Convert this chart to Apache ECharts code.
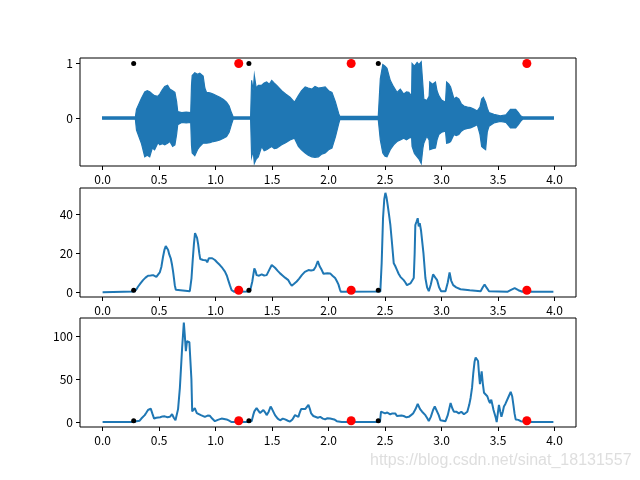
<!DOCTYPE html>
<html>
<head>
<meta charset="utf-8">
<script src="https://cdn.jsdelivr.net/npm/echarts@6/dist/echarts.min.js"></script>
<style>html,body{margin:0;padding:0;background:#fff;}#c{width:640px;height:480px;}</style>
</head>
<body>
<div id="c"></div>
<script>
// ---- Data ----
// Waveform envelope (time s, upper, lower)
const waveT  = [0.00,0.29,0.30,0.343,0.373,0.395,0.417,0.44,0.46,0.49,0.506,0.53,0.55,0.575,0.595,0.62,0.64,0.655,0.665,0.70,0.74,0.78,0.787,0.793,0.816,0.84,0.86,0.89,0.905,0.92,0.95,0.979,1.01,1.038,1.07,1.097,1.12,1.14,1.156,1.31,1.319,1.333,1.343,1.36,1.378,1.408,1.43,1.452,1.475,1.497,1.52,1.541,1.585,1.62,1.659,1.698,1.733,1.76,1.793,1.82,1.852,1.88,1.91,1.94,1.97,2.00,2.03,2.06,2.09,2.10,2.44,2.458,2.48,2.50,2.517,2.546,2.576,2.606,2.635,2.665,2.69,2.71,2.735,2.739,2.76,2.784,2.80,2.82,2.835,2.843,2.87,2.89,2.896,2.92,2.946,2.96,2.976,3.00,3.035,3.045,3.065,3.08,3.11,3.13,3.153,3.175,3.198,3.23,3.257,3.29,3.316,3.34,3.355,3.37,3.39,3.405,3.42,3.463,3.52,3.57,3.61,3.656,3.68,3.70,3.72,3.99];
const waveUp = [0.02,0.02,0.16,0.36,0.48,0.50,0.48,0.44,0.41,0.40,0.44,0.52,0.58,0.60,0.53,0.50,0.47,0.30,0.12,0.10,0.11,0.10,0.60,0.78,0.83,0.80,0.82,0.77,0.55,0.47,0.46,0.44,0.41,0.38,0.34,0.29,0.22,0.10,0.02,0.02,0.69,0.50,0.78,0.55,0.60,0.60,0.64,0.66,0.62,0.69,0.64,0.60,0.50,0.44,0.38,0.29,0.41,0.50,0.57,0.55,0.53,0.58,0.55,0.56,0.57,0.50,0.47,0.30,0.08,0.03,0.03,0.72,0.98,0.95,0.91,0.69,0.57,0.47,0.53,0.44,0.48,0.47,0.40,1.00,0.95,1.02,0.98,1.03,0.60,0.35,0.32,0.40,0.66,0.62,0.66,0.50,0.41,0.33,0.29,0.66,0.62,0.57,0.35,0.38,0.35,0.26,0.22,0.20,0.19,0.16,0.13,0.20,0.35,0.38,0.29,0.18,0.10,0.07,0.04,0.06,0.16,0.16,0.10,0.04,0.02,0.02];
const waveLo = [-0.02,-0.02,-0.22,-0.46,-0.71,-0.68,-0.71,-0.55,-0.58,-0.45,-0.49,-0.47,-0.49,-0.46,-0.43,-0.52,-0.49,-0.30,-0.12,-0.08,-0.09,-0.08,-0.50,-0.64,-0.69,-0.58,-0.52,-0.46,-0.46,-0.46,-0.45,-0.43,-0.42,-0.40,-0.37,-0.34,-0.26,-0.12,-0.02,-0.02,-0.71,-0.60,-0.83,-0.75,-0.71,-0.52,-0.60,-0.58,-0.55,-0.52,-0.56,-0.55,-0.49,-0.45,-0.40,-0.37,-0.52,-0.58,-0.64,-0.68,-0.71,-0.72,-0.71,-0.66,-0.64,-0.58,-0.55,-0.35,-0.10,-0.03,-0.03,-0.40,-0.64,-0.70,-0.71,-0.58,-0.49,-0.43,-0.40,-0.37,-0.40,-0.37,-0.35,-0.52,-0.65,-0.71,-0.75,-0.83,-0.55,-0.46,-0.33,-0.40,-0.58,-0.56,-0.55,-0.40,-0.30,-0.26,-0.24,-0.46,-0.45,-0.43,-0.30,-0.32,-0.30,-0.24,-0.21,-0.19,-0.18,-0.15,-0.12,-0.30,-0.52,-0.55,-0.58,-0.25,-0.15,-0.09,-0.06,-0.08,-0.18,-0.18,-0.12,-0.06,-0.02,-0.02];

// Middle curve (time, value)
const midT = [0,0.278,0.30,0.313,0.335,0.358,0.38,0.402,0.425,0.447,0.476,0.49,0.506,0.52,0.535,0.548,0.559,0.58,0.59,0.603,0.615,0.624,0.632,0.639,0.648,0.662,0.772,0.787,0.797,0.808,0.818,0.826,0.836,0.846,0.856,0.864,0.875,0.89,0.905,0.915,0.926,0.94,0.95,0.97,0.994,1.015,1.038,1.06,1.083,1.10,1.112,1.127,1.142,1.166,1.304,1.325,1.343,1.353,1.363,1.385,1.408,1.43,1.452,1.475,1.497,1.51,1.526,1.55,1.571,1.595,1.615,1.644,1.66,1.674,1.695,1.718,1.74,1.763,1.79,1.822,1.845,1.867,1.885,1.905,1.92,1.94,1.955,1.97,1.99,2.014,2.035,2.058,2.075,2.088,2.10,2.109,2.458,2.47,2.482,2.493,2.503,2.513,2.523,2.535,2.547,2.562,2.577,2.59,2.606,2.62,2.636,2.65,2.665,2.68,2.694,2.71,2.724,2.74,2.754,2.762,2.768,2.779,2.789,2.798,2.807,2.818,2.828,2.84,2.857,2.872,2.887,2.905,2.925,2.945,2.961,2.978,2.996,3.035,3.055,3.071,3.085,3.103,3.13,3.168,3.25,3.346,3.365,3.381,3.40,3.42,3.582,3.615,3.647,3.68,3.715,3.99];
const midV = [0,0.3,1.5,2.8,4.5,6.2,7.5,8.5,8.6,8.8,7.9,8.5,10.2,13,18.3,22,23.8,21.8,19.5,17.5,14,10.6,7,3.6,1.2,0.5,0.5,7.3,16,24.7,30.5,31.2,28,24.7,20,17.1,16.8,16.6,17.5,16.5,15.4,17.5,18.0,17.5,16.6,15.3,14.0,12.5,10.6,8.5,6.2,3.5,1.0,0.2,0.3,5.5,12.3,11,8.8,8.5,9.2,8.6,8.8,11.5,14.0,13,12.6,11,9.7,8.5,7.5,6.2,4.5,3.3,4.3,5.5,7,8.8,10.5,11.4,11.2,11.4,13,16.1,13.5,11.4,9.5,8.8,9.8,9.7,8.5,7.3,5.5,3.9,1.5,0.2,0.3,15,38.2,48,51.3,49,45.1,40,34.7,25,14.9,13.5,11.4,9.5,7.9,7.5,6.2,5,3.6,4.2,4.5,5.5,7.3,20,34.7,36.5,38.2,34,35.6,32,31.2,20,7.3,2.5,0.5,4,9.2,7.5,6.2,2.5,0.5,0.5,5,10.2,6,3.6,2.5,1.5,1.0,0.5,2.5,4.0,2.2,0.5,0.2,1.2,2.1,1.0,0.2,0.2];

// Bottom curve (time, value)
const botT = [0,0.28,0.30,0.313,0.328,0.343,0.358,0.373,0.388,0.402,0.414,0.426,0.44,0.456,0.475,0.491,0.51,0.53,0.55,0.575,0.595,0.615,0.63,0.645,0.654,0.668,0.684,0.704,0.719,0.728,0.737,0.747,0.757,0.768,0.778,0.786,0.793,0.805,0.816,0.834,0.85,0.87,0.905,0.93,0.95,0.97,0.994,1.02,1.053,1.075,1.097,1.12,1.142,1.30,1.319,1.333,1.343,1.363,1.38,1.393,1.41,1.423,1.44,1.452,1.47,1.487,1.50,1.526,1.55,1.571,1.595,1.615,1.64,1.659,1.68,1.703,1.718,1.733,1.745,1.757,1.775,1.793,1.81,1.822,1.835,1.846,1.865,1.882,1.905,1.926,1.95,1.97,1.99,2.014,2.03,2.05,2.073,2.117,2.455,2.464,2.48,2.50,2.52,2.546,2.565,2.59,2.605,2.62,2.645,2.665,2.69,2.71,2.73,2.748,2.77,2.789,2.81,2.828,2.845,2.857,2.875,2.887,2.905,2.925,2.94,2.955,2.975,2.99,3.035,3.055,3.08,3.095,3.109,3.13,3.153,3.175,3.198,3.213,3.228,3.245,3.257,3.27,3.281,3.292,3.302,3.312,3.323,3.332,3.34,3.348,3.355,3.365,3.376,3.39,3.405,3.418,3.429,3.44,3.45,3.46,3.47,3.48,3.488,3.498,3.508,3.52,3.53,3.542,3.552,3.565,3.577,3.595,3.612,3.625,3.636,3.646,3.656,3.68,3.70,3.76,3.99];
const botV = [0,0,1,2.7,1.5,4,5,8,11,14,15.5,15.5,10,4,5,6,5.5,6.5,6.6,5.5,6,9,5,2,1,15,39.7,86.4,115.6,100,82.5,94,94.2,93,94.2,50,12.4,14,16.2,10.4,9,8,6,7.5,7.2,4,1,2.5,4,3.5,3,1.5,0,0,1,8,12.4,16.2,13,10.4,12,14,11,8,12,18,15,8,4,2,4,3,1.5,0.5,3,8,9,6,11,15,15,15,17,20,15,10,7,6,5,6,4,3,4.5,4,5,3,1,0,0,12,11,10,11,9,10,10,7,6,7.5,7,5.5,6,8,10,15,21,15,12,10,8,4,1,6,14,18,18,8,2,1,8,22,16,12,12,10,12,9,11,12,20,28,40,57,70,75,74,71,55,44,52,59,45,34,32,30,25,22,26,20,14,12,5,0,10,20,12,6,12,18,21,23,30,35,30,20,10,3,2.5,1,0,0];

// Marker points
const blackT = [0.275, 1.295, 2.44];
const redT   = [1.205, 2.2, 3.755];
const topMarkY = 1;
const midMarkY = 1;
const botMarkY = 1.5;

// Tick values
const xTicks = [0,0.5,1.0,1.5,2.0,2.5,3.0,3.5,4.0];
const yTicksTop = [0,1];
const yTicksMid = [0,20,40];
const yTicksBot = [0,50,100];

const watermark = 'https://blog.csdn.net/sinat_18131557';

// ---- Chart ----
const BLUE = '#1f77b4';
const FONT = '"Noto Sans CJK SC", "DejaVu Sans", sans-serif';
const chart = echarts.init(document.getElementById('c'), null, {renderer:'canvas'});

function xAxisDef(idx){
  return {
    type:'value', gridIndex: idx, min:-0.2, max:4.19,
    axisLine:{show:false, onZero:false},
    splitLine:{show:false},
    axisTick:{show:true, length:4, inside:false, customValues:xTicks, lineStyle:{color:'#000', width:1}},
    axisLabel:{show:true, customValues:xTicks, margin:7, color:'#000', fontSize:12, fontFamily:FONT,
      formatter: v => v.toFixed(1)}
  };
}
function yAxisDef(idx, min, max, ticks){
  return {
    type:'value', gridIndex: idx, min:min, max:max,
    axisLine:{show:false, onZero:false},
    splitLine:{show:false},
    axisTick:{show:true, length:4, customValues:ticks, lineStyle:{color:'#000', width:1}},
    axisLabel:{show:true, customValues:ticks, margin:7, color:'#000', fontSize:12, fontFamily:FONT,
      formatter: v => String(v)}
  };
}

const grids = [
  {left:80, width:496, top:58, height:108},
  {left:80, width:496, top:188, height:109},
  {left:80, width:496, top:318, height:109}
].map(g => Object.assign({show:true, borderColor:'#000', borderWidth:1, backgroundColor:'transparent'}, g));

function markerSeries(ts, y, color, size, idx){
  return {
    type:'scatter', xAxisIndex:idx, yAxisIndex:idx, z:5,
    symbol:'circle', symbolSize:size,
    itemStyle:{color:color, borderWidth:0, opacity:1},
    data: ts.map(t => [t, y]), silent:true
  };
}

const option = {
  animation:false,
  backgroundColor:'#fff',
  grid: grids,
  xAxis:[xAxisDef(0), xAxisDef(1), xAxisDef(2)],
  yAxis:[
    yAxisDef(0, -0.878, 1.10, yTicksTop),
    yAxisDef(1, -2.5, 53.8, yTicksMid),
    yAxisDef(2, -5.8, 121, yTicksBot)
  ],
  series:[
    {
      type:'custom', xAxisIndex:0, yAxisIndex:0, clip:true,
      data: waveT.map((t,i) => [t, waveUp[i], waveLo[i]]),
      encode:{x:0, y:[1,2]},
      renderItem: function(params, api){
        if (params.dataIndex !== 0) return null;
        const pts = [];
        for (let i = 0; i < waveT.length; i++) pts.push(api.coord([waveT[i], waveUp[i]]));
        for (let i = waveT.length - 1; i >= 0; i--) pts.push(api.coord([waveT[i], waveLo[i]]));
        return {type:'polygon', shape:{points:pts}, style:{fill:BLUE, stroke:BLUE, lineWidth:1.2}};
      }
    },
    {
      type:'line', xAxisIndex:1, yAxisIndex:1, showSymbol:false, symbol:'none',
      lineStyle:{color:BLUE, width:2}, data: midT.map((t,i)=>[t, midV[i]])
    },
    {
      type:'line', xAxisIndex:2, yAxisIndex:2, showSymbol:false, symbol:'none',
      lineStyle:{color:BLUE, width:2}, data: botT.map((t,i)=>[t, botV[i]])
    },
    markerSeries(blackT, topMarkY, '#000', 5, 0),
    markerSeries(redT, topMarkY, '#ff0000', 9, 0),
    markerSeries(blackT, midMarkY, '#000', 5, 1),
    markerSeries(redT, midMarkY, '#ff0000', 9, 1),
    markerSeries(blackT, botMarkY, '#000', 5, 2),
    markerSeries(redT, botMarkY, '#ff0000', 9, 2)
  ],
  graphic:[
    {type:'text', left:370, top:453, z:100,
     style:{text:watermark, fill:'rgba(200,200,200,0.6)', fontSize:16, fontFamily:'"Liberation Sans", Arial, sans-serif'}}
  ]
};
chart.setOption(option);
</script>
</body>
</html>
